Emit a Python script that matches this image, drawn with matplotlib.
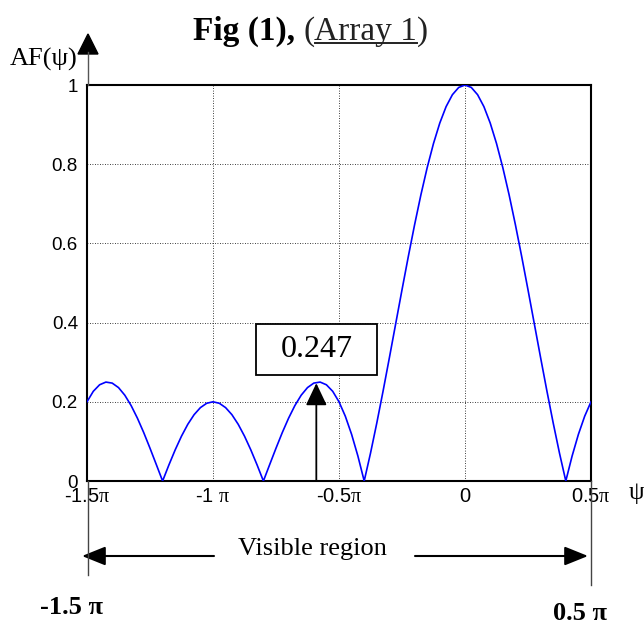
import numpy as np
import matplotlib
matplotlib.use("Agg")
import matplotlib.pyplot as plt
from matplotlib.patches import Rectangle, Polygon, FancyArrowPatch
from matplotlib.lines import Line2D

plt.rcParams['mathtext.fontset'] = 'custom'
plt.rcParams['mathtext.rm'] = 'Liberation Serif'
plt.rcParams['mathtext.it'] = 'Liberation Serif:italic'

W, H = 644, 624
SANS = 'Liberation Sans'
SERIF = 'Liberation Serif'

# psi in units of pi, sampled every 0.025 pi from -1.5 pi to 0.5 pi
psi = np.linspace(-1.5, 0.5, 81)
af = [0.2000, 0.2265, 0.2430, 0.2498, 0.2472, 0.2359, 0.2167, 0.1906, 0.1587, 0.1224,
      0.0828, 0.0416, 0.0000, 0.0405, 0.0787, 0.1133, 0.1432, 0.1675, 0.1853, 0.1963,
      0.2000, 0.1963, 0.1853, 0.1675, 0.1432, 0.1133, 0.0787, 0.0405, 0.0000, 0.0416,
      0.0828, 0.1224, 0.1587, 0.1906, 0.2167, 0.2359, 0.2472, 0.2498, 0.2430, 0.2265,
      0.2000, 0.1637, 0.1178, 0.0630, 0.0000, 0.0702, 0.1465, 0.2274, 0.3115, 0.3972,
      0.4828, 0.5667, 0.6472, 0.7227, 0.7915, 0.8524, 0.9040, 0.9454, 0.9755, 0.9938,
      1.0000, 0.9938, 0.9755, 0.9454, 0.9040, 0.8524, 0.7915, 0.7227, 0.6472, 0.5667,
      0.4828, 0.3972, 0.3115, 0.2274, 0.1465, 0.0702, 0.0000, 0.0630, 0.1178, 0.1637,
      0.2000]

xtick_pos = [-1.5, -1.0, -0.5, 0.0, 0.5]
xtick_labels = [r'-1.5$\mathrm{\pi}$', r'-1 $\mathrm{\pi}$', r'-0.5$\mathrm{\pi}$', '0', r'0.5$\mathrm{\pi}$']
ytick_pos = [0, 0.2, 0.4, 0.6, 0.8, 1.0]
ytick_labels = ['0', '0.2', '0.4', '0.6', '0.8', '1']

peak_psi = -0.59
peak_val = 0.247


def fx(x):
    return x / W


def fy(y):
    return 1 - y / H


fig = plt.figure(figsize=(W / 100, H / 100), dpi=100, facecolor='white')
ax = fig.add_axes([fx(87), fy(481), (591 - 87) / W, (481 - 85) / H])

ax.plot(psi, af, color='#0000ff', lw=1.2, zorder=3)
ax.set_xlim(-1.5, 0.5)
ax.set_ylim(0, 1)
ax.set_xticks(xtick_pos, xtick_labels)
ax.set_yticks(ytick_pos, ytick_labels)
ax.grid(True, linestyle=(0, (1, 2)), color='k', lw=0.6)
ax.tick_params(axis='both', length=0, labelsize=13.5)
ax.tick_params(axis='y', pad=6.5)
ax.tick_params(axis='x', pad=4.5, labelsize=14.5)
for lab in ax.get_xticklabels() + ax.get_yticklabels():
    lab.set_fontfamily(SANS)
for sp in ax.spines.values():
    sp.set_linewidth(1.5)

# arrow to the side lobe peak and the value box
ax.annotate('', xy=(peak_psi, peak_val), xytext=(peak_psi, 0),
            arrowprops=dict(arrowstyle='-|>,head_length=13.7,head_width=6.5',
                            mutation_scale=1, lw=1.3, color='k',
                            shrinkA=0, shrinkB=0), zorder=4)
ax.add_patch(Rectangle((-0.829, 0.268), 0.48, 0.128, facecolor='white',
                       edgecolor='k', lw=1.3, zorder=5))
ax.text(-0.589, 0.332, f'{peak_val:.3f}', ha='center', va='center',
        fontsize=23, family=SERIF, zorder=6)

# y axis extension with arrow head
fig.add_artist(Line2D([fx(87.5), fx(87.5)], [fy(85), fy(52)], color='#555555', lw=1))
fig.add_artist(Polygon([(fx(88), fy(34)), (fx(78), fy(54)), (fx(98), fy(54))],
                       closed=True, facecolor='k', edgecolor='k', transform=fig.transFigure))
fig.text(fx(10), fy(66), 'AF(ψ)', fontsize=19, family=SERIF, va='baseline', ha='left')
fig.text(fx(629), fy(493), 'ψ', fontsize=18, family=SERIF, va='center', ha='left')

# visible region markers
fig.add_artist(Line2D([fx(87.5), fx(87.5)], [fy(481), fy(575)], color='#444444', lw=1))
fig.add_artist(Line2D([fx(591), fx(591)], [fy(481), fy(585)], color='#444444', lw=1))
for x0, x1 in [(214, 82), (415, 588)]:
    fig.add_artist(FancyArrowPatch((fx(x0), fy(556)), (fx(x1), fy(556)),
                                   transform=fig.transFigure,
                                   arrowstyle='-|>,head_length=14.4,head_width=5.8',
                                   mutation_scale=1, lw=1.5, color='k',
                                   shrinkA=0, shrinkB=0))
fig.text(fx(312), fy(549), 'Visible region', fontsize=19, family=SERIF, ha='center', va='center')
fig.text(fx(71), fy(607), '-1.5 π', fontsize=19, family=SERIF, weight='bold', ha='center', va='center')
fig.text(fx(580), fy(613), '0.5 π', fontsize=19, family=SERIF, weight='bold', ha='center', va='center')

# title: bold part, then regular part with underlined "Array 1"
renderer = fig.canvas.get_renderer()
t1 = fig.text(fx(193), fy(40), 'Fig (1), ', fontsize=24, family=SERIF, weight='bold', va='baseline')
x = t1.get_window_extent(renderer).x1
t2 = fig.text(x / W, fy(40), '(', fontsize=24, family=SERIF, va='baseline', color='#222222')
x = t2.get_window_extent(renderer).x1
t3 = fig.text(x / W, fy(40), 'Array 1', fontsize=24, family=SERIF, va='baseline', color='#222222')
bb = t3.get_window_extent(renderer)
fig.text(bb.x1 / W, fy(40), ')', fontsize=24, family=SERIF, va='baseline', color='#222222')
fig.add_artist(Line2D([bb.x0 / W, bb.x1 / W], [fy(43), fy(43)], color='#222222', lw=1.4))

fig.savefig('out.png', dpi=100, facecolor='white')
